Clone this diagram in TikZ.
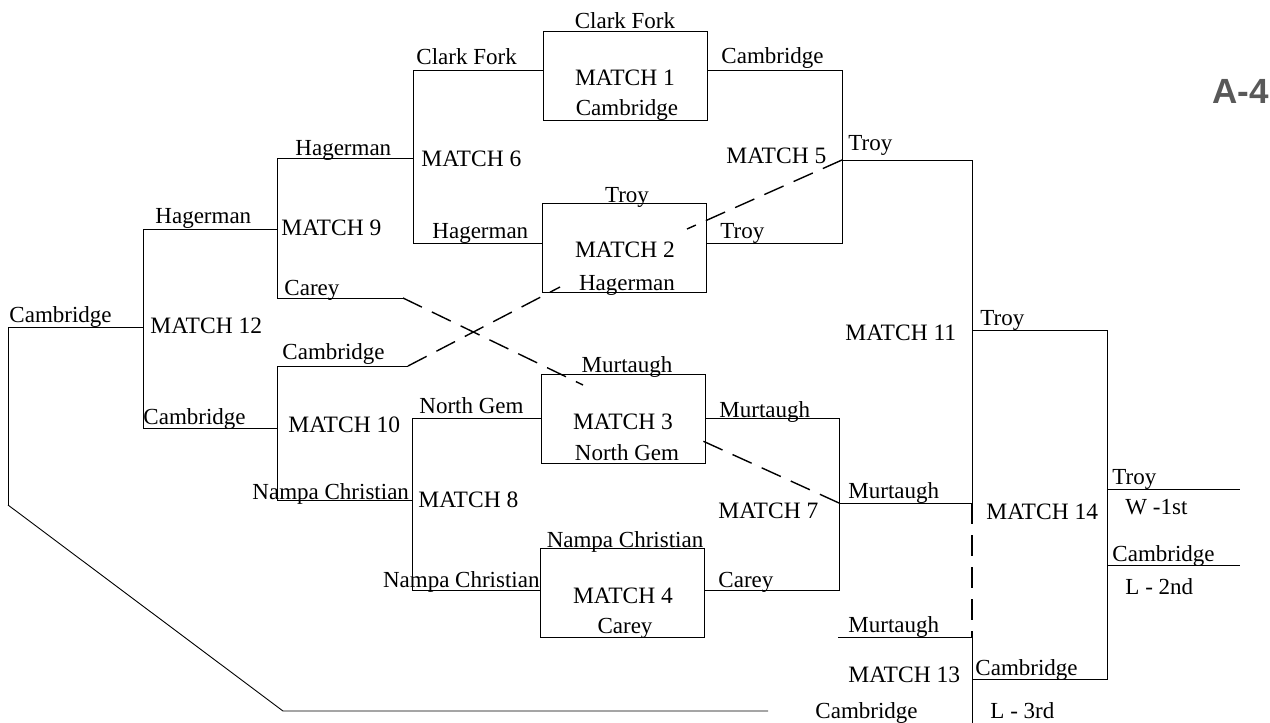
\documentclass[tikz,border=0pt]{standalone}
\usepackage{fontspec}
\setmainfont{Liberation Serif}
\newfontfamily\sheetfont{Liberation Sans}
\usetikzlibrary{positioning}

\begin{document}
\begin{tikzpicture}[x=1pt, y=-1pt, line width=0.9pt,
  team/.style={inner sep=0pt, anchor=base west, font=\fontsize{23}{25}\selectfont},
  matchlbl/.style={inner sep=0pt, anchor=base west, font=\fontsize{23.5}{25}\selectfont},
  matchbox/.style={draw, minimum width=164pt, minimum height=89pt, inner sep=0pt},
  link/.style={dash pattern=on 21pt off 11pt, line width=1.4pt}]
  \useasboundingbox (0,0) rectangle (1270,723);

  \node[matchbox] (m1) at (625,75.5) {};
  \node[matchbox] (m2) at (624.5,248) {};
  \node[matchbox] (m3) at (623.5,419) {};
  \node[matchbox] (m4) at (622.5,593) {};

  \node[team, anchor=base] (m1top) at (625,28) {Clark Fork};
  \node[matchlbl, anchor=base] (m1lbl) at (625,85) {MATCH 1};
  \node[team, anchor=base] (m1win) at (627,115) {Cambridge};
  \node[team, anchor=base] (m2top) at (627,202) {Troy};
  \node[matchlbl, anchor=base] (m2lbl) at (625,257) {MATCH 2};
  \node[team, anchor=base] (m2win) at (627,290) {Hagerman};
  \node[team, anchor=base] (m3top) at (627,372) {Murtaugh};
  \node[matchlbl, anchor=base] (m3lbl) at (623,429) {MATCH 3};
  \node[team, anchor=base] (m3win) at (627,460) {North Gem};
  \node[team, anchor=base] (m4top) at (625,547) {Nampa Christian};
  \node[matchlbl, anchor=base] (m4lbl) at (623,603) {MATCH 4};
  \node[team, anchor=base] (m4win) at (625,633) {Carey};

  \coordinate (c6t) at (413,70);
  \coordinate (c6b) at (413,243);
  \coordinate (c6o) at (413,158);
  \coordinate (c9t) at (277,158);
  \coordinate (c9b) at (277,298);
  \coordinate (c9o) at (277,229);
  \coordinate (c12t) at (143,229);
  \coordinate (c12b) at (143,428);
  \coordinate (c12o) at (143,327);
  \coordinate (c10t) at (277,366);
  \coordinate (c10b) at (277,500);
  \coordinate (c10o) at (277,428);
  \coordinate (c8t) at (412,418);
  \coordinate (c8b) at (412,590);
  \coordinate (c8o) at (412,500);
  \coordinate (c5t) at (842,70);
  \coordinate (c5b) at (842,243);
  \coordinate (c5o) at (842,160);
  \coordinate (c7t) at (839,418);
  \coordinate (c7b) at (839,590);
  \coordinate (c7o) at (839,503);
  \coordinate (c11t) at (972,160);
  \coordinate (c11o) at (972,330);
  \coordinate (c11b) at (972,503);
  \coordinate (c13t) at (972,637);
  \coordinate (c13b) at (972,723);
  \coordinate (c13o) at (972,679);
  \coordinate (c13in) at (838,637);
  \coordinate (c14t) at (1107,330);
  \coordinate (c14b) at (1107,679);
  \coordinate (c14w) at (1107,489);
  \coordinate (c14l) at (1107,565);
  \coordinate (first) at (1240,489);
  \coordinate (second) at (1240,565);
  \coordinate (careyend) at (403,298);
  \coordinate (cambend) at (408,366);
  \coordinate (c12end) at (8,327);
  \coordinate (back1) at (8,505);
  \coordinate (back2) at (283,711);
  \coordinate (back3) at (768,711);
  \coordinate (d2) at (560,287);
  \coordinate (d3) at (583,385);
  \coordinate (d5) at (687,229);
  \coordinate (d7) at (694,437);

  \draw (c6t) -- (m1.west |- c6t);
  \draw (c6b) -- (m2.west |- c6b);
  \draw (c6t) -- (c6b);
  \draw (c6o) -- (c9t);
  \draw (c9t) -- (c9b) -- (careyend);
  \draw (c9o) -- (c12t);
  \draw (c12t) -- (c12b);
  \draw (c12o) -- (c12end) -- (back1);
  \draw (back1) -- (back2) -- (back3);
  \draw (cambend) -- (c10t) -- (c10b) -- (c8o);
  \draw (c10o) -- (c12b);
  \draw (c8t) -- (c8b);
  \draw (c8t) -- (m3.west |- c8t);
  \draw (c8b) -- (m4.west |- c8b);
  \draw (m1.east |- c5t) -- (c5t) -- (c5b) -- (m2.east |- c5b);
  \draw (c5o) -- (c11t) -- (c11b);
  \draw (m3.east |- c7t) -- (c7t) -- (c7b) -- (m4.east |- c7b);
  \draw (c7o) -- (c11b);
  \draw (c11o) -- (c14t) -- (c14b) -- (c13o);
  \draw (c13in) -- (c13t) -- (c13b);
  \draw (c14w) -- (first);
  \draw (c14l) -- (second);

  \draw[link] (careyend) -- (d3);
  \draw[link] (cambend) -- (d2);
  \draw[link] (c5o) -- (d5);
  \draw[link] (c7o) -- (d7);
  \draw[link] (c11b) -- (c13t);

  \node[team] (l6a) at (416,64) {Clark Fork};
  \node[team] (l6b) at (432,238) {Hagerman};
  \node[matchlbl] (lm6) at (421,166) {MATCH 6};
  \node[team] (l9a) at (295,155) {Hagerman};
  \node[matchlbl] (lm9) at (281,235) {MATCH 9};
  \node[team] (l9b) at (284,295) {Carey};
  \node[team] (l12a) at (155,223) {Hagerman};
  \node[matchlbl] (lm12) at (150,333) {MATCH 12};
  \node[team] (l12o) at (9,322) {Cambridge};
  \node[team] (l12b) at (143,424) {Cambridge};
  \node[team] (l10a) at (282,359) {Cambridge};
  \node[matchlbl] (lm10) at (288,432) {MATCH 10};
  \node[team] (l10b) at (252,499) {Nampa Christian};
  \node[team] (l8a) at (419,413) {North Gem};
  \node[matchlbl] (lm8) at (418,507) {MATCH 8};
  \node[team, anchor=base east] (l8b) at (540,587) {Nampa Christian};
  \node[team] (l5a) at (721,63) {Cambridge};
  \node[team] (l5b) at (720,238) {Troy};
  \node[matchlbl] (lm5) at (726,163) {MATCH 5};
  \node[team] (l11a) at (848,150) {Troy};
  \node[team] (l7a) at (719,417) {Murtaugh};
  \node[team] (l7b) at (718,587) {Carey};
  \node[matchlbl] (lm7) at (718,518) {MATCH 7};
  \node[team] (l11b) at (848,498) {Murtaugh};
  \node[matchlbl] (lm11) at (845,340) {MATCH 11};
  \node[team] (l14a) at (980,325) {Troy};
  \node[matchlbl] (lm14) at (986,519) {MATCH 14};
  \node[team] (l13a) at (848,632) {Murtaugh};
  \node[matchlbl] (lm13) at (848,682) {MATCH 13};
  \node[team] (l14b) at (975,675) {Cambridge};
  \node[team] (l13b) at (815,718) {Cambridge};
  \node[team] (third) at (990,718) {L - 3rd};
  \node[team] (champ) at (1112,484) {Troy};
  \node[team] (champr) at (1125,514) {W -1st};
  \node[team] (runner) at (1112,561) {Cambridge};
  \node[team] (runnerr) at (1125,594) {L - 2nd};

  \node[inner sep=0pt, anchor=base west, text=black!65,
    font=\sheetfont\bfseries\fontsize{35}{36}\selectfont] (sheet) at (1212,103) {A-4};
\end{tikzpicture}
\end{document}
